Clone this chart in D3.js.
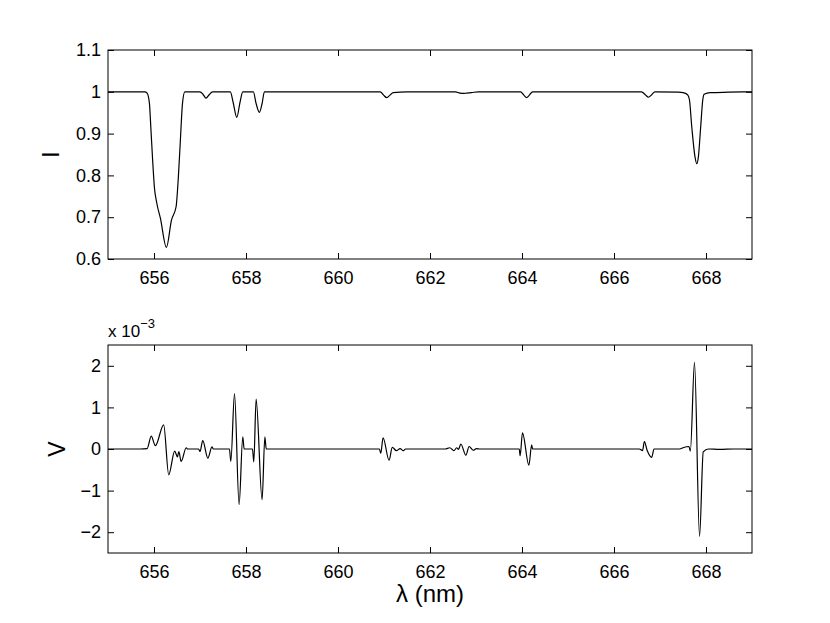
<!DOCTYPE html>
<html>
<head>
<meta charset="utf-8">
<script src="https://cdn.jsdelivr.net/npm/d3@7"></script>
<style>
  body { margin: 0; background: #fff; }
  svg { display: block; font-family: "Liberation Sans", Arial, sans-serif; }
</style>
</head>
<body>
<div id="chart"></div>
<script>
// wavelength grid for the intensity profile (nm)
const lambdaI = [
  655.0, 655.80, 655.85, 655.90, 655.93, 655.97, 656.01, 656.06, 656.14, 656.27,
  656.38, 656.48, 656.53, 656.57, 656.62, 656.67,
  657.00, 657.07, 657.13, 657.20, 657.27,
  657.66, 657.72, 657.80, 657.87, 657.93,
  658.16, 658.22, 658.29, 658.35, 658.40,
  660.92, 660.99, 661.06, 661.13, 661.20, 661.50,
  662.55, 662.65, 662.72, 662.80, 662.90, 663.05,
  663.97, 664.04, 664.10, 664.16, 664.23,
  666.60, 666.68, 666.75, 666.82, 666.89,
  667.40, 667.50, 667.60, 667.64, 667.69, 667.76, 667.80, 667.835, 667.885, 667.93,
  667.96, 668.09, 668.50, 669.0
];
const intensity = [
  1, 1, 0.997, 0.973, 0.917, 0.837, 0.77, 0.734, 0.697, 0.628,
  0.693, 0.725, 0.797, 0.877, 0.973, 1.0,
  1.0, 0.993, 0.985, 0.993, 1.0,
  1.0, 0.975, 0.939, 0.975, 1.0,
  1.0, 0.972, 0.951, 0.972, 1.0,
  1.0, 0.992, 0.986, 0.992, 0.998, 1.0,
  1.0, 0.997, 0.996, 0.997, 0.998, 1.0,
  1.0, 0.992, 0.986, 0.992, 1.0,
  1.0, 0.993, 0.987, 0.993, 1.0,
  0.999, 0.998, 0.993, 0.981, 0.917, 0.845, 0.828, 0.845, 0.917, 0.981,
  0.994, 0.998, 0.999, 1.0
];

// wavelength grid for circular polarisation (nm), V in units of 1e-3
const lambdaV = [
  655.0, 655.70, 655.85, 655.94, 656.03, 656.21, 656.32, 656.45, 656.51, 656.54, 656.59, 656.70, 656.73,
  656.97, 657.00, 657.06, 657.17, 657.26, 657.29,
  657.64, 657.67, 657.75, 657.85, 657.93, 657.96,
  658.14, 658.17, 658.22, 658.35, 658.41, 658.44,
  660.90, 660.93, 660.98, 661.11, 661.18, 661.27, 661.35, 661.42, 661.47,
  662.33, 662.43, 662.52, 662.58, 662.62, 662.67, 662.78, 662.85, 662.94, 663.01, 663.09,
  663.94, 663.96, 664.01, 664.15, 664.21, 664.23,
  666.55, 666.62, 666.66, 666.72, 666.82, 666.87,
  667.43, 667.50, 667.63, 667.66, 667.75, 667.86, 667.94, 668.05, 668.30, 668.60, 669.0
];
const stokesV = [
  0, 0, 0.01, 0.31, 0.08, 0.58, -0.62, -0.05, -0.19, -0.06, -0.3, 0.03, 0,
  0, -0.06, 0.2, -0.22, 0.05, 0,
  0, -0.3, 1.33, -1.34, 0.29, 0,
  0, -0.31, 1.2, -1.22, 0.29, 0,
  0, -0.1, 0.27, -0.27, 0.04, -0.04, 0.01, -0.04, 0,
  0, 0.03, -0.04, 0.03, -0.01, 0.12, -0.15, 0.06, -0.03, 0.01, 0,
  0, -0.16, 0.39, -0.39, 0.1, 0,
  0, -0.04, 0.18, -0.03, -0.2, 0,
  0, 0.03, 0.06, -0.05, 2.08, -2.1, -0.07, 0, -0.01, 0, 0
];

const xTicks = [656, 658, 660, 662, 664, 666, 668];
const iTicks = [0.6, 0.7, 0.8, 0.9, 1, 1.1];
const vTicks = [-2, -1, 0, 1, 2];

const width = 830, height = 623;
const left = 108, right = 752;

const svg = d3.select("#chart").append("svg")
    .attr("width", width)
    .attr("height", height)
    .attr("viewBox", [0, 0, width, height]);

const x = d3.scaleLinear([655, 669], [left, right]);
const yI = d3.scaleLinear([0.6, 1.1], [259, 50]);
const yV = d3.scaleLinear([-2.5, 2.5], [553, 345]);

function panel(y, yTicks, fmt, lx, ly, lab) {
    const [y0, y1] = y.range();
    const g = svg.append("g");

    // bottom axis with labels, inward ticks
    g.append("g")
        .attr("transform", `translate(0,${y0})`)
        .call(d3.axisBottom(x).tickValues(xTicks).tickFormat(d3.format("d"))
            .tickSizeInner(-6).tickSizeOuter(0).tickPadding(12))
        .call(s => s.select(".domain").remove());
    g.append("g")
        .attr("transform", `translate(0,${y1})`)
        .call(d3.axisTop(x).tickValues(xTicks).tickFormat("")
            .tickSizeInner(-6).tickSizeOuter(0))
        .call(s => s.select(".domain").remove());
    g.append("g")
        .attr("transform", `translate(${left},0)`)
        .call(d3.axisLeft(y).tickValues(yTicks).tickFormat(fmt)
            .tickSizeInner(-6).tickSizeOuter(0).tickPadding(7))
        .call(s => s.select(".domain").remove());
    g.append("g")
        .attr("transform", `translate(${right},0)`)
        .call(d3.axisRight(y).tickValues(yTicks).tickFormat("")
            .tickSizeInner(-6).tickSizeOuter(0))
        .call(s => s.select(".domain").remove());

    g.selectAll(".tick text")
        .attr("font-size", 18)
        .attr("font-family", "Liberation Sans, Arial, sans-serif")
        .attr("fill", "#000");
    g.selectAll(".tick line").attr("stroke", "#000");

    g.append("rect")
        .attr("x", left).attr("y", y1)
        .attr("width", right - left).attr("height", y0 - y1)
        .attr("fill", "none").attr("stroke", "#000").attr("stroke-width", 1);

    svg.append("text")
        .attr("transform", `translate(${lx},${ly}) rotate(-90)`)
        .attr("text-anchor", "middle")
        .attr("font-size", 23)
        .text(lab);
    return g;
}

panel(yI, iTicks, d => d === 1 ? "1" : d3.format(".1f")(d), 59, 154.5, "I");
panel(yV, vTicks, d => d3.format("d")(d).replace("-", "\u2212"), 65, 449, "V");

const lineI = d3.line()
    .x((d, i) => x(lambdaI[i]))
    .y(d => yI(d))
    .curve(d3.curveMonotoneX);
const lineV = d3.line()
    .x((d, i) => x(lambdaV[i]))
    .y(d => yV(d))
    .curve(d3.curveMonotoneX);

svg.append("path")
    .attr("d", lineI(intensity))
    .attr("fill", "none").attr("stroke", "#000").attr("stroke-width", 1.2);
svg.append("path")
    .attr("d", lineV(stokesV))
    .attr("fill", "none").attr("stroke", "#000").attr("stroke-width", 1.2);

// exponent label above the V axes
const ex = svg.append("text")
    .attr("x", left).attr("y", 337)
    .attr("font-size", 17);
ex.append("tspan").text("x 10");
ex.append("tspan").attr("dy", -9).attr("font-size", 13).text("\u22123");

svg.append("text")
    .attr("x", (left + right) / 2).attr("y", 602)
    .attr("text-anchor", "middle")
    .attr("font-size", 24)
    .text("λ (nm)");
</script>
</body>
</html>
